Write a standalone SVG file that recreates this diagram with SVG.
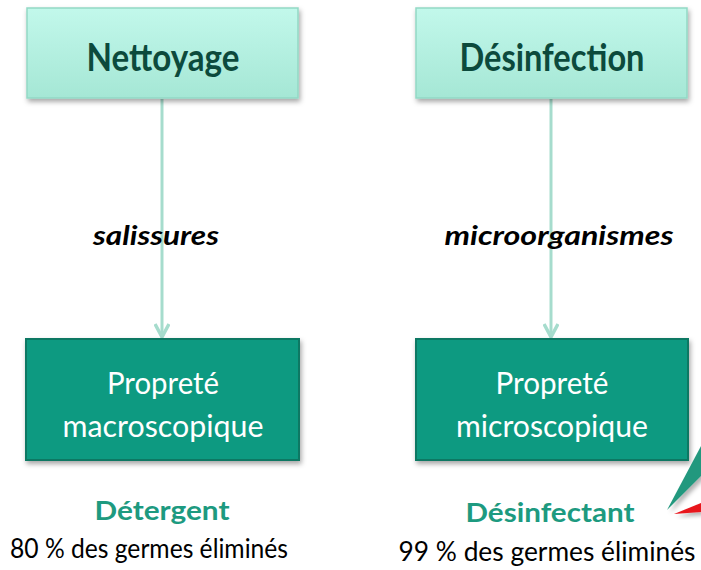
<svg xmlns="http://www.w3.org/2000/svg" width="701" height="570" viewBox="0 0 701 570">
  <defs>
    <linearGradient id="topFill" x1="0" y1="0" x2="0" y2="1">
      <stop offset="0" stop-color="#c2f8eb"/>
      <stop offset="1" stop-color="#a5e7d5"/>
    </linearGradient>
    <filter id="shadow" x="-10%" y="-10%" width="125%" height="135%">
      <feDropShadow dx="1.5" dy="3" stdDeviation="2.5" flood-color="#000" flood-opacity="0.35"/>
    </filter>
    <filter id="wedgeShadow" x="-50%" y="-50%" width="200%" height="200%">
      <feDropShadow dx="3" dy="3" stdDeviation="2" flood-color="#000" flood-opacity="0.3"/>
    </filter>
    <!-- open chevron arrowhead, drawn along +x so orient="auto" points it down the line -->
    <marker id="chevron" viewBox="0 0 16 16" refX="14" refY="8" markerWidth="16" markerHeight="16" markerUnits="userSpaceOnUse" orient="auto">
      <path d="M1,1 L14,8 L1,15" fill="none" stroke="#a6dccd" stroke-width="3.5" stroke-linejoin="miter"/>
    </marker>
  </defs>
  <style>
    .top { fill: url(#topFill); stroke: #92d9c5; stroke-width: 1.5; filter: url(#shadow); }
    .bottom { fill: #079a81; stroke: #0a7863; stroke-width: 2; filter: url(#shadow); }
    .title { font-family: Lato, "Liberation Sans", sans-serif; font-weight: bold; font-size: 38px; fill: #0c4a3c; text-anchor: middle; }
    .agent { font-family: Lato, "Liberation Sans", sans-serif; font-weight: bold; font-style: italic; font-size: 27px; fill: #000; text-anchor: middle; }
    .result { font-family: Lato, "Liberation Sans", sans-serif; font-size: 30px; fill: #fff; text-anchor: middle; }
    .product { font-family: Lato, "Liberation Sans", sans-serif; font-weight: bold; font-size: 27px; fill: #1d9a80; text-anchor: middle; }
    .rate { font-family: Lato, "Liberation Sans", sans-serif; font-size: 26px; fill: #000; text-anchor: middle; }
    .link { stroke: #a6dccd; stroke-width: 3; fill: none; }
  </style>

  <!-- connectors -->
  <g id="connectors">
    <line class="link" x1="162" y1="99" x2="162" y2="337" marker-end="url(#chevron)"/>
    <line class="link" x1="551" y1="99" x2="551" y2="337" marker-end="url(#chevron)"/>
  </g>

  <!-- agent labels on the connectors -->
  <g id="label-salissures">
    <text class="agent" x="156" y="245" textLength="126" lengthAdjust="spacingAndGlyphs">salissures</text>
  </g>
  <g id="label-microorganismes">
    <text class="agent" x="559" y="245" textLength="229" lengthAdjust="spacingAndGlyphs">microorganismes</text>
  </g>

  <!-- upper nodes -->
  <g id="node-nettoyage">
    <rect class="top" x="27" y="8" width="271" height="90"/>
    <text class="title" x="163" y="71" textLength="153" lengthAdjust="spacingAndGlyphs">Nettoyage</text>
  </g>
  <g id="node-desinfection">
    <rect class="top" x="416" y="8" width="271" height="90"/>
    <text class="title" x="552" y="71" textLength="185" lengthAdjust="spacingAndGlyphs">Désinfection</text>
  </g>

  <!-- lower nodes -->
  <g id="node-macroscopique">
    <rect class="bottom" x="26" y="339" width="273" height="121"/>
    <text class="result" x="163" y="394" textLength="112" lengthAdjust="spacingAndGlyphs">Propreté</text>
    <text class="result" x="163" y="437" textLength="201" lengthAdjust="spacingAndGlyphs">macroscopique</text>
  </g>
  <g id="node-microscopique">
    <rect class="bottom" x="416" y="339" width="272" height="121"/>
    <text class="result" x="552" y="394" textLength="113" lengthAdjust="spacingAndGlyphs">Propreté</text>
    <text class="result" x="552" y="437" textLength="192" lengthAdjust="spacingAndGlyphs">microscopique</text>
  </g>

  <!-- product notes -->
  <g id="note-detergent">
    <text class="product" x="162" y="520" textLength="135" lengthAdjust="spacingAndGlyphs">Détergent</text>
    <text class="rate" x="149" y="558" textLength="278" lengthAdjust="spacingAndGlyphs">80 % des germes éliminés</text>
  </g>
  <g id="note-desinfectant">
    <text class="product" x="550" y="522" textLength="169" lengthAdjust="spacingAndGlyphs">Désinfectant</text>
    <text class="rate" x="547" y="561" textLength="297" lengthAdjust="spacingAndGlyphs">99 % des germes éliminés</text>
  </g>

  <!-- callout pointers entering from the right edge -->
  <g id="callout-pointers">
    <polygon points="701,446 701,476 667,510" fill="#23987e" filter="url(#wedgeShadow)"/>
    <polygon points="701,503 701,512 674,514" fill="#e8141b" filter="url(#wedgeShadow)"/>
  </g>
</svg>
